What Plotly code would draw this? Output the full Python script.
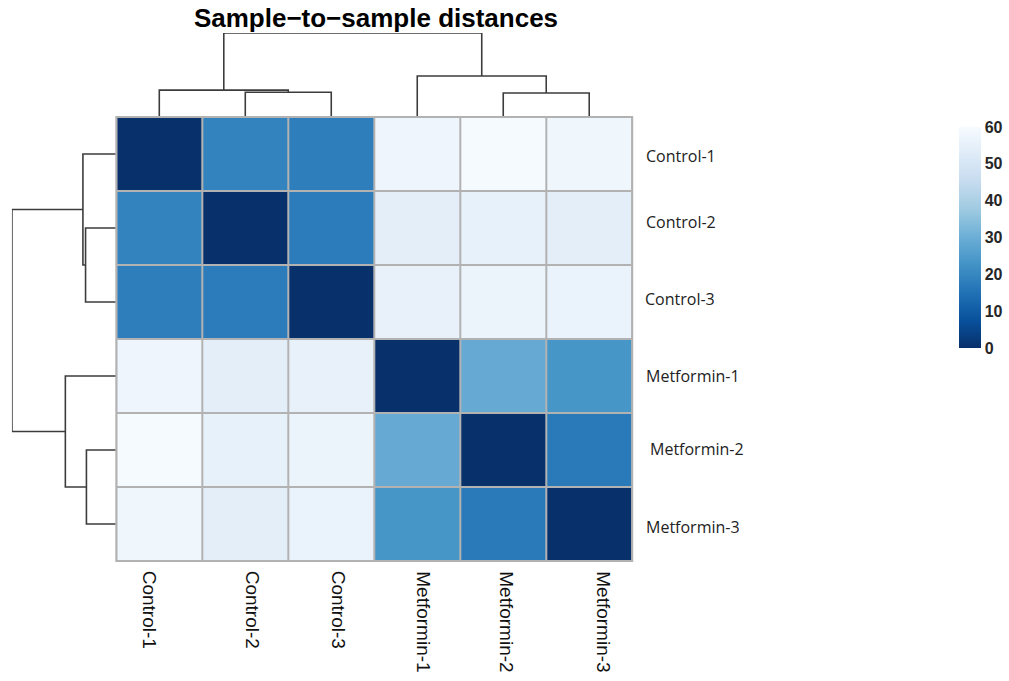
import plotly.graph_objects as go
import plotly.express as px

# Samples in clustered order
samples = ["Control-1", "Control-2", "Control-3",
           "Metformin-1", "Metformin-2", "Metformin-3"]

# Euclidean sample-to-sample distances (symmetric)
dist = [
    [0.0, 19.0, 18.0, 57.3, 59.4, 57.5],
    [19.0, 0.0, 17.5, 54.0, 55.2, 54.0],
    [18.0, 17.5, 0.0, 55.5, 56.7, 56.0],
    [57.3, 54.0, 55.5, 0.0, 29.0, 23.5],
    [59.4, 55.2, 56.7, 29.0, 0.0, 17.0],
    [57.5, 54.0, 56.0, 23.5, 17.0, 0.0],
]

# Complete-linkage merges: (child_a, child_b, height); ids >= 6 are earlier merges
merge_a = [1, 0, 4, 3, 7]
merge_b = [2, 6, 5, 8, 9]
merge_h = [17.5, 19.0, 17.0, 29.0, 59.4]

cbar_ticks = [0, 10, 20, 30, 40, 50, 60]

# label nudges (px)
col_dx = [-9, 8, 8, 6, 3, 14]
row_dy = [-2, 6, 3, 0, 1, -3]
row_dx = [0, 0, -1, 0, 4, 0]

W, H = 1009, 681
hm_l, hm_r, hm_t, hm_b = 117, 636, 117, 561
grid_col = "#b2b2b2"


def px_x(v):
    return v / W


def px_y(v):
    return 1 - v / H


def dendro_segments(n):
    pos = {i: float(i) for i in range(n)}
    hgt = {i: 0.0 for i in range(n)}
    segs = []
    for k, (a, b, h) in enumerate(zip(merge_a, merge_b, merge_h)):
        segs.append(([pos[a], pos[a], pos[b], pos[b]], [hgt[a], h, h, hgt[b]]))
        pos[n + k] = (pos[a] + pos[b]) / 2
        hgt[n + k] = h
    return segs


segs = dendro_segments(len(samples))
line_style = dict(color="#3c3c3c", width=1.6)

fig = go.Figure()

fig.add_trace(go.Heatmap(
    z=dist, x=list(range(6)), y=list(range(6)),
    colorscale=px.colors.sequential.Blues_r, zmin=0, zmax=60,
    xgap=2, ygap=2, hoverongaps=False,
    colorbar=dict(
        x=px_x(955), xanchor="left", y=px_y(117), yanchor="top",
        len=(358 - 117) / H, lenmode="fraction", thickness=22,
        outlinewidth=0, tickvals=cbar_ticks, ticks="",
        tickfont=dict(family="Liberation Sans", size=16, color="#262626",
                      weight="bold"),
    ),
    xaxis="x", yaxis="y",
))

# column dendrogram (top)
for xs, hs in segs:
    fig.add_trace(go.Scatter(x=xs, y=hs, mode="lines", line=line_style,
                             xaxis="x2", yaxis="y2", showlegend=False,
                             hoverinfo="skip"))
# row dendrogram (left)
for ys, hs in segs:
    fig.add_trace(go.Scatter(x=hs, y=ys, mode="lines", line=line_style,
                             xaxis="x3", yaxis="y3", showlegend=False,
                             hoverinfo="skip"))

hidden = dict(showgrid=False, zeroline=False, showticklabels=False,
              ticks="", showline=False)
dom_x = [px_x(hm_l), px_x(hm_r)]
dom_y = [px_y(hm_b), px_y(hm_t)]

fig.update_layout(
    width=W, height=H, margin=dict(l=0, r=0, t=0, b=0),
    paper_bgcolor="white", plot_bgcolor="white",
    title=dict(text="<b>Sample\u2212to\u2212sample distances</b>", x=px_x(376),
               y=px_y(18), xanchor="center", yanchor="middle",
               font=dict(family="Liberation Sans", size=26, color="black")),
    xaxis=dict(domain=dom_x, range=[-0.5, 5.5], **hidden),
    yaxis=dict(domain=dom_y, range=[5.5, -0.5], **hidden),
    xaxis2=dict(domain=dom_x, range=[-0.5, 5.5], anchor="y2", **hidden),
    yaxis2=dict(domain=[px_y(hm_t), px_y(33)], range=[0, 59.4],
                anchor="x2", **hidden),
    xaxis3=dict(domain=[px_x(12), px_x(hm_l)], range=[59.4, 0],
                anchor="y3", **hidden),
    yaxis3=dict(domain=dom_y, range=[5.5, -0.5], anchor="x3", **hidden),
    showlegend=False,
)

# grey cell borders: backdrop behind the heatmap plus an outer frame
fig.add_shape(type="rect", xref="paper", yref="paper", layer="below",
              x0=dom_x[0], x1=dom_x[1], y0=dom_y[0], y1=dom_y[1],
              fillcolor=grid_col, line=dict(width=0))
fig.add_shape(type="rect", xref="paper", yref="paper",
              x0=dom_x[0], x1=dom_x[1], y0=dom_y[0], y1=dom_y[1],
              line=dict(color=grid_col, width=2))

for i, name in enumerate(samples):
    fig.add_annotation(x=i, y=px_y(hm_b + 8), xref="x", yref="paper",
                       text=name, textangle=90, showarrow=False,
                       xanchor="center", yanchor="top", xshift=col_dx[i],
                       font=dict(family="Liberation Sans", size=19,
                                 color="#111111"))
    fig.add_annotation(x=px_x(hm_r + 12), y=i, xref="paper", yref="y",
                       text=name, showarrow=False, xanchor="left",
                       yanchor="middle", xshift=row_dx[i], yshift=row_dy[i],
                       font=dict(family="Open Sans", size=16, color="#222222"))

fig.write_html("out.html")
